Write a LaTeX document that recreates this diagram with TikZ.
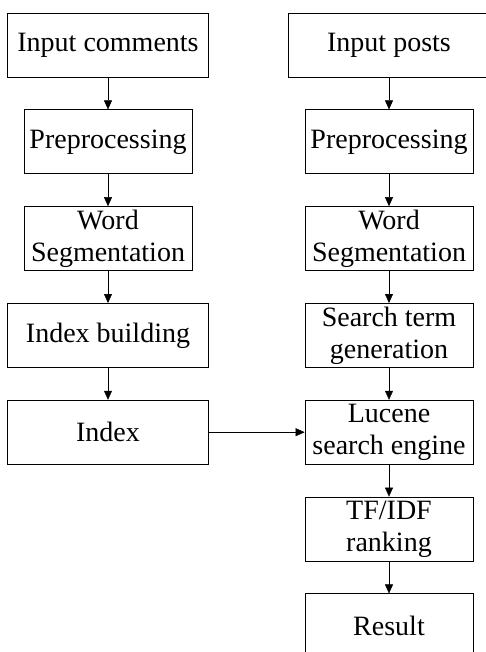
\documentclass[tikz,border=0pt]{standalone}
\usepackage{fontspec}
\setmainfont{Liberation Serif}
\usepackage{tikz}
\usetikzlibrary{positioning,arrows.meta}

\begin{document}
\begin{tikzpicture}[x=1pt,y=1pt,node distance=32pt,b/.style={draw,line width=0.8pt,align=center,inner sep=0pt,font=\fontsize{28}{32}\selectfont,minimum height=64pt,minimum width=168pt},w/.style={b,minimum width=201pt},>={Triangle[length=9pt,width=8pt]}]
\useasboundingbox (0,0) rectangle (486,-652);
\node[w] (ic) at (108,-45) {Input comments};
\node[b,below=of ic] (p1) {Preprocessing};
\node[b,below=of p1] (ws1) {Word\\Segmentation};
\node[w,below=of ws1] (ib) {Index building};
\node[w,below=of ib] (ix) {Index};
\draw[->] (ic)--(p1); \draw[->] (p1)--(ws1); \draw[->] (ws1)--(ib); \draw[->] (ib)--(ix);
\node[w] (ip) at (389,-45) {Input posts};
\node[b,below=of ip] (p2) {Preprocessing};
\node[b,below=of p2] (ws2) {Word\\Segmentation};
\node[b,below=of ws2] (st) {Search term\\generation};
\node[b,below=of st] (lu) {Lucene\\search engine};
\node[b,below=of lu] (tf) {TF/IDF\\ranking};
\node[b,below=of tf] (rs) {Result};
\draw[->] (ip)--(p2); \draw[->] (p2)--(ws2); \draw[->] (ws2)--(st); \draw[->] (st)--(lu);
\draw[->] (lu)--(tf); \draw[->] (tf)--(rs);
\draw[->] (ix)--(lu);
\end{tikzpicture}
\end{document}
